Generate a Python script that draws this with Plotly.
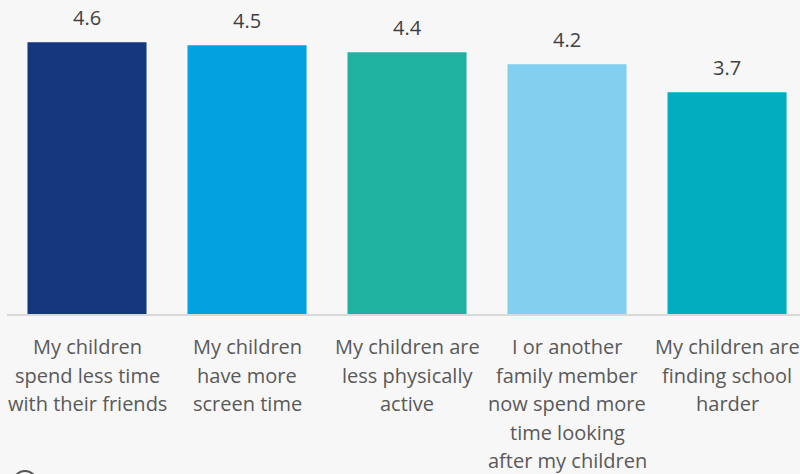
import plotly.graph_objects as go

categories = [
    "My children<br>spend less time<br>with their friends",
    "My children<br>have more<br>screen time",
    "My children are<br>less physically<br>active",
    "I or another<br>family member<br>now spend more<br>time looking<br>after my children",
    "My children are<br>finding school<br>harder",
]
values = [4.56, 4.51, 4.39, 4.19, 3.72]
value_labels = ["4.6", "4.5", "4.4", "4.2", "3.7"]
colors = ["#14377D", "#03A1E0", "#20B2A0", "#82CFEF", "#00AEBF"]

FONT = "Open Sans"
W, H = 800, 474
ML, MB = 7, 160
PLOT_H = H - MB

fig = go.Figure()
fig.add_trace(go.Bar(
    x=categories, y=values,
    marker=dict(color=colors, line=dict(width=0)),
    hoverinfo="skip",
))

# value labels above bars
for c, v, t in zip(categories, values, value_labels):
    fig.add_annotation(x=c, y=v, text=t, showarrow=False,
                       yanchor="middle", yshift=24.5,
                       font=dict(family=FONT, size=20, color="#404040"))

# category labels, one line at a time for matching line spacing
for c in categories:
    for i, line in enumerate(c.split("<br>")):
        fig.add_annotation(x=c, y=0, yref="paper", text=line, showarrow=False,
                           yanchor="middle", yshift=-(32.5 + i * 28.6),
                           font=dict(family=FONT, size=20, color="#595959"))

# partially visible icon at bottom-left
def px_x(p):
    return (p - ML) / (W - ML)

def px_y(p):
    return (PLOT_H - p) / PLOT_H

fig.add_shape(type="circle", xref="paper", yref="paper",
              x0=px_x(13), x1=px_x(37), y0=px_y(496), y1=px_y(471),
              line=dict(color="#555555", width=2))

fig.update_layout(
    width=W, height=H,
    margin=dict(l=ML, r=0, t=0, b=MB, pad=0),
    paper_bgcolor="#f7f7f7", plot_bgcolor="#f7f7f7",
    bargap=0.256,
    showlegend=False,
    font=dict(family=FONT, size=20, color="#595959"),
    xaxis=dict(range=[-0.5, 4.456], showline=True, linecolor="#d9d9d9", linewidth=2,
               ticks="", showgrid=False, showticklabels=False, fixedrange=True),
    yaxis=dict(range=[0, 5.268], visible=False, showgrid=False, fixedrange=True),
)

fig.write_html(
    "out.html",
    config={"displayModeBar": False, "staticPlot": True},
    post_script="document.body.style.margin='0';document.body.style.padding='0';"
                "document.body.style.overflow='hidden';",
)
